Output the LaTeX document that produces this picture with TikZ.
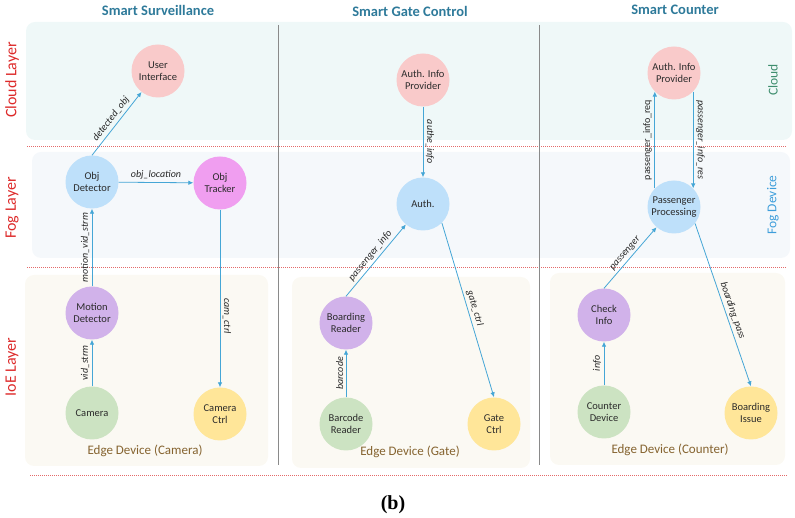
\documentclass[tikz,border=0pt]{standalone}
\usepackage{fontspec}
\setmainfont{Carlito}
\newfontfamily\capfont{Liberation Serif}
\usetikzlibrary{arrows.meta}
\definecolor{titleteal}{HTML}{2E7A9A}
\definecolor{layerred}{HTML}{DD2A2A}
\definecolor{sepred}{HTML}{E46A6A}
\definecolor{cloudbg}{HTML}{EFF8F8}
\definecolor{fogbg}{HTML}{F5F8FB}
\definecolor{edgebg}{HTML}{FBF9F3}
\definecolor{cloudgreen}{HTML}{3E8E6E}
\definecolor{fogblue}{HTML}{3E9EDB}
\definecolor{edgebrown}{HTML}{85632F}
\definecolor{flowblue}{HTML}{45A6D6}
\definecolor{divgray}{HTML}{8A8A8A}
\definecolor{cloudpink}{HTML}{F9CACA}
\definecolor{foglight}{HTML}{BEE0FA}
\definecolor{trackpink}{HTML}{F09EF0}
\definecolor{procpurple}{HTML}{D1B2EA}
\definecolor{srcgreen}{HTML}{CCE3C2}
\definecolor{actyellow}{HTML}{FFE699}
\definecolor{txtgray}{HTML}{2B2B2B}

\begin{document}
\begin{tikzpicture}[
  x=1pt, y=1pt,
  font=\fontsize{10.5}{12.5}\selectfont,
  svc/.style={circle, minimum size=53pt, inner sep=1pt, align=center, text=txtgray},
  cloudsvc/.style={svc, fill=cloudpink},
  fogsvc/.style={svc, fill=foglight},
  tracksvc/.style={svc, fill=trackpink},
  procsvc/.style={svc, fill=procpurple},
  srcsvc/.style={svc, fill=srcgreen},
  actsvc/.style={svc, fill=actyellow},
  flow/.style={draw=flowblue, line width=0.8pt, -{Latex[length=5pt,width=4.5pt]}},
  tag/.style={font=\fontsize{10}{12}\selectfont\itshape, text=black!85, inner sep=2.5pt},
  zone/.style={rounded corners=9pt},
  sepline/.style={draw=sepred, line width=0.6pt, dash pattern=on 1pt off 1pt},
  layerlbl/.style={rotate=90, text=layerred, font=\fontsize{16}{18}\selectfont},
  coltitle/.style={text=titleteal, font=\fontsize{14.5}{17}\selectfont\bfseries},
  edgelbl/.style={text=edgebrown, font=\fontsize{13}{15}\selectfont}
]
\useasboundingbox (0,0) rectangle (795,518);

% layer backgrounds
\fill[zone, cloudbg] (26,378) rectangle (792,496);
\fill[zone, fogbg] (32,260) rectangle (790,366);
\fill[zone, edgebg] (25,52) rectangle (268,243);
\fill[zone, edgebg] (292,50) rectangle (530,241);
\fill[zone, edgebg] (550,53) rectangle (785,245);

\draw[sepline] (27,372) -- (787,372);
\draw[sepline] (27,251) -- (787,251);
\draw[sepline] (30,43) -- (787,43);

\draw[divgray, line width=0.8pt] (278,493) -- (278,53);
\draw[divgray, line width=0.8pt] (539,493) -- (539,53);

% titles and layer names
\node[coltitle] (tSurv) at (158,508) {Smart Surveillance};
\node[coltitle] (tGate) at (410,507) {Smart Gate Control};
\node[coltitle] (tCount) at (675,508) {Smart Counter};

\node[layerlbl] (lCloud) at (12,438) {Cloud Layer};
\node[layerlbl] (lFog) at (12,310) {Fog Layer};
\node[layerlbl] (lIoE) at (12,151) {IoE Layer};

\node[rotate=90, text=cloudgreen, font=\fontsize{13.5}{15}\selectfont] (rCloud) at (773,438) {Cloud};
\node[rotate=90, text=fogblue, font=\fontsize{13.5}{15}\selectfont] (rFog) at (773,313) {Fog Device};

\node[edgelbl] (eCam) at (145,67) {Edge Device (Camera)};
\node[edgelbl] (eGate) at (410,66) {Edge Device (Gate)};
\node[edgelbl] (eCount) at (670,68) {Edge Device (Counter)};

% smart surveillance
\node[cloudsvc] (ui) at (158,447) {User\\Interface};
\node[fogsvc] (objDet) at (92,336) {Obj\\Detector};
\node[tracksvc] (objTrk) at (220,335) {Obj\\Tracker};
\node[procsvc] (motDet) at (92,205) {Motion\\Detector};
\node[srcsvc] (cam) at (92,105) {Camera};
\node[actsvc] (camCtrl) at (220,104) {Camera\\Ctrl};

% smart gate control
\node[cloudsvc] (gAuthInfo) at (423,438) {Auth. Info\\Provider};
\node[fogsvc] (gAuth) at (423,314) {Auth.};
\node[procsvc] (bReader) at (346,195) {Boarding\\Reader};
\node[srcsvc] (bcReader) at (346,94) {Barcode\\Reader};
\node[actsvc] (gCtrl) at (494,94) {Gate\\Ctrl};

% smart counter
\node[cloudsvc] (cAuthInfo) at (674,445) {Auth. Info\\Provider};
\node[fogsvc] (pProc) at (674,311) {Passenger\\Processing};
\node[procsvc] (chkInfo) at (604,203) {Check\\Info};
\node[srcsvc] (ctrDev) at (604,106) {Counter\\Device};
\node[actsvc] (bIssue) at (751,105) {Boarding\\Issue};

\draw[flow] (objDet.north) -- (ui) node[midway, sloped, above, tag] {detected\_obj};
\draw[flow] (objDet) -- (objTrk) node[midway, above, tag] {obj\_location};
\draw[flow] (motDet) -- (objDet) node[midway, rotate=90, above, tag] {motion\_vid\_strm};
\draw[flow] (cam) -- (motDet) node[midway, rotate=90, above, tag] {vid\_strm};
\draw[flow] (objTrk) -- (camCtrl) node[pos=0.6, rotate=-90, above, tag] {cam\_ctrl};

\draw[flow] (gAuthInfo) -- (gAuth) node[midway, rotate=-90, above, tag] {authe\_info};
\draw[flow] (bReader.north) -- (gAuth) node[midway, sloped, above, tag] {passenger\_info};
\draw[flow] (gAuth.-45) -- (gCtrl.north) node[midway, sloped, above, tag] {gate\_ctrl};
\draw[flow] (bcReader) -- (bReader) node[midway, rotate=90, above, tag] {barcode};

\draw[flow] (pProc.136) -- (cAuthInfo.224) node[midway, rotate=90, above, tag, font=\fontsize{10}{12}\selectfont] {passenger\_info\_req};
\draw[flow] (cAuthInfo.316) -- (pProc.44) node[midway, rotate=-90, above, tag] {passenger\_info\_res};
\draw[flow] (chkInfo.north) -- (pProc) node[midway, sloped, above, tag] {passenger};
\draw[flow] (pProc.-38) -- (bIssue.north) node[pos=0.55, sloped, above, tag] {boarding\_pass};
\draw[flow] (ctrDev) -- (chkInfo) node[midway, rotate=90, above, tag] {info};

\node[font=\capfont\fontsize{20}{22}\selectfont\bfseries] (cap) at (393,13) {(b)};
\end{tikzpicture}
\end{document}
